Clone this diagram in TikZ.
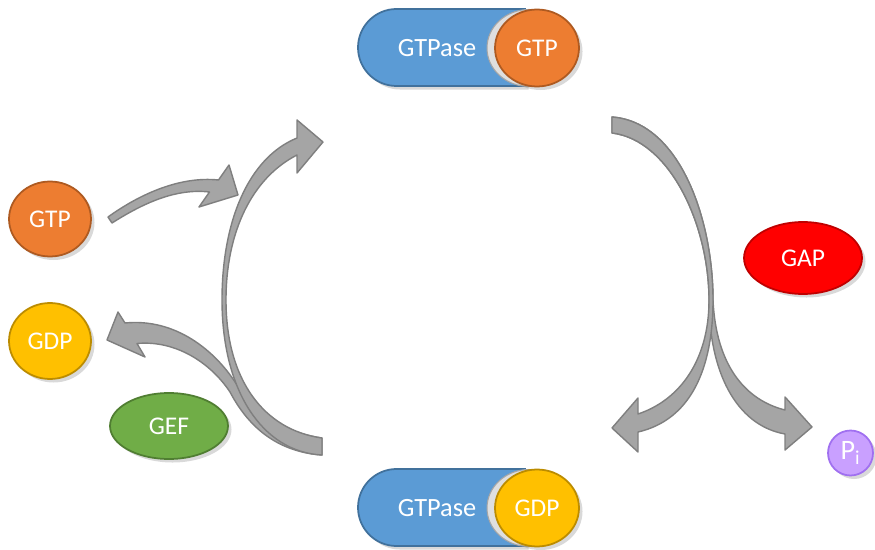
\documentclass[tikz,border=0pt]{standalone}
\usepackage{fontspec}
\setmainfont{Carlito}
\usetikzlibrary{shapes.geometric,shadows}
\definecolor{gblue}{HTML}{5B9BD5}
\definecolor{gbluedk}{HTML}{41719C}
\definecolor{gorange}{HTML}{ED7D31}
\definecolor{gorangedk}{HTML}{AE5A21}
\definecolor{gyellow}{HTML}{FFC000}
\definecolor{gyellowdk}{HTML}{BC8C00}
\definecolor{ggreen}{HTML}{70AD47}
\definecolor{ggreendk}{HTML}{507E32}
\definecolor{gred}{HTML}{FF0000}
\definecolor{greddk}{HTML}{C00000}
\definecolor{gpurple}{HTML}{C9A0FF}
\definecolor{gpurpledk}{HTML}{A070F0}
\definecolor{agray}{HTML}{A5A5A5}
\definecolor{agraydk}{HTML}{7F7F7F}
\begin{document}
\begin{tikzpicture}[x=0.02cm,y=-0.02cm,
  blob/.style={ellipse, inner sep=0pt, text=white, font=\fontsize{14.5}{16}\selectfont,
    line width=1pt, drop shadow={shadow xshift=2pt, shadow yshift=-2pt, opacity=0.3}},
  arr/.style={fill=agray, draw=agraydk, line width=0.8pt, line join=round},
  capsule/.style={fill=gblue, draw=gbluedk, line width=1pt,
    drop shadow={shadow xshift=2pt, shadow yshift=-2pt, opacity=0.3}},
  crescent/.style={ellipse, inner sep=0pt, minimum width=1.68cm, minimum height=1.54cm,
    fill=gray!25, draw=gray!70, line width=0.6pt}
]
\useasboundingbox (0,0) rectangle (875,550);

% ---- arrows ----
% GDP out-arrow (branch)
\draw[arr] (322,438) .. controls (280,432) and (255,410) .. (237,385)
  .. controls (215,350) and (175,318) .. (125,323) -- (118,312) -- (107,340) -- (145,357) -- (137,343.5)
  .. controls (175,340) and (210,362) .. (230,392) .. controls (250,430) and (280,452) .. (322,455) -- cycle;
% big left arc
\draw[arr] (322,438) .. controls (264,430) and (226,380) .. (226,300)
  .. controls (226,232) and (252,178) .. (297,155) -- (297,173) -- (323,142) -- (297,120) -- (297,138)
  .. controls (248,158) and (222,222) .. (222,300) .. controls (222,390) and (262,452) .. (322,455) -- cycle;
% GTP in-arrow
\draw[arr] (108,217) .. controls (140,194) and (180,176) .. (218.5,180) -- (229,165) -- (238,195)
  -- (199,207) -- (209.5,192) .. controls (175,188) and (142,204) .. (112,223) -- cycle;
% right arc to Pi
\draw[arr] (612,117) .. controls (680,122) and (713,220) .. (713,300)
  .. controls (716,365) and (745,400) .. (785,410) -- (785,397) -- (812,427) -- (785,450) -- (785,434)
  .. controls (735,425) and (709,370) .. (709,300) .. controls (709,225) and (670,140) .. (612,133) -- cycle;
% right arc to bottom
\draw[arr] (612,117) .. controls (680,122) and (713,220) .. (713,300)
  .. controls (713,370) and (690,420) .. (638,432) -- (638,452) -- (612,428) -- (638,398) -- (638,414)
  .. controls (680,400) and (709,360) .. (709,300) .. controls (709,225) and (670,140) .. (612,133) -- cycle;

% ---- top GTPase:GTP ----
\draw[capsule] (525,9) -- (396.5,9) arc[start angle=270, end angle=90, radius=38.5] -- (525,86) -- cycle;
\node (tase) at (437,48) [text=white, font=\fontsize{15}{16}\selectfont] {GTPase};
\node[crescent] (tcres) at (529,48) {};
\node[blob, fill=gorange, draw=gorangedk, minimum width=1.68cm, minimum height=1.54cm] (tgtp) at (537,48) {GTP};

% ---- bottom GTPase:GDP ----
\draw[capsule] (525,469) -- (396.5,469) arc[start angle=270, end angle=90, radius=38.5] -- (525,546) -- cycle;
\node (base) at (437,508) [text=white, font=\fontsize{15}{16}\selectfont] {GTPase};
\node[crescent] (bcres) at (529,508) {};
\node[blob, fill=gyellow, draw=gyellowdk, minimum width=1.68cm, minimum height=1.54cm] (bgdp) at (537,508) {GDP};

% ---- side molecules ----
\node[blob, fill=gorange, draw=gorangedk, minimum width=1.64cm, minimum height=1.5cm] (gtp) at (50,219) {GTP};
\node[blob, fill=gyellow, draw=gyellowdk, minimum width=1.64cm, minimum height=1.52cm] (gdp) at (50,341) {GDP};
\node[blob, fill=ggreen, draw=ggreendk, minimum width=2.36cm, minimum height=1.32cm] (gef) at (169,426) {GEF};
\node[blob, fill=gred, draw=greddk, minimum width=2.36cm, minimum height=1.44cm] (gap) at (803,258) {GAP};
\node[blob, fill=gpurple, draw=gpurpledk, minimum width=0.9cm, minimum height=0.9cm, font=\fontsize{16}{17}\selectfont] (pi) at (850.5,453) {P\textsubscript{i}};
\end{tikzpicture}
\end{document}
